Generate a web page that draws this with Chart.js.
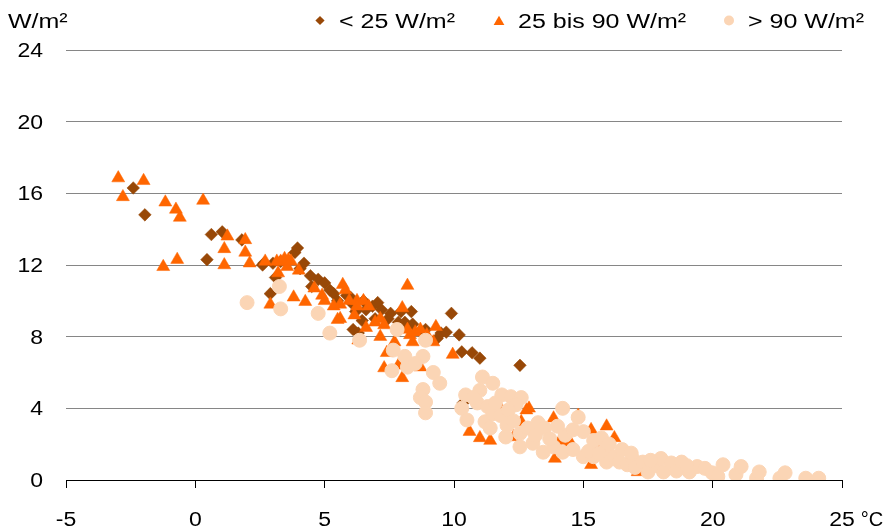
<!DOCTYPE html>
<html>
<head>
<meta charset="utf-8">
<script src="https://cdn.jsdelivr.net/npm/chart.js@4/dist/chart.umd.min.js"></script>
<style>
  html, body { margin: 0; padding: 0; background: #fff; }
  #wrap { width: 885px; height: 532px; }
</style>
</head>
<body>
<div id="wrap"><canvas id="tempChart" width="885" height="532"></canvas></div>
<script>
// Ticks
const xTicks = [-5, 0, 5, 10, 15, 20, 25];
const yTicks = [0, 4, 8, 12, 16, 20, 24];

// Series labels
const seriesLabels = ["< 25 W/m²", "25 bis 90 W/m²", "> 90 W/m²"];

// [temperature °C, W/m²]
const lowRad = [
  [-2.4, 16.3], [-1.95, 14.8], [0.45, 12.3], [0.62, 13.7], [1.04, 13.85], [1.8, 13.4],
  [2.6, 12.0], [2.65, 12.1], [2.9, 10.4], [3.0, 12.1], [3.1, 11.3], [3.3, 12.2],
  [3.85, 12.7], [3.95, 12.95], [4.05, 11.8], [4.2, 12.1], [4.45, 11.4], [4.5, 10.8],
  [4.75, 11.2], [5.0, 11.0], [5.2, 10.6], [5.35, 10.4], [5.5, 10.0], [5.85, 10.3],
  [6.0, 10.2], [6.1, 9.8], [6.1, 8.4], [6.2, 9.4], [6.3, 8.2], [6.45, 8.9], [6.5, 10.0],
  [6.6, 9.5], [6.85, 9.7], [6.95, 9.0], [7.05, 9.9], [7.2, 9.5], [7.45, 9.0], [7.55, 9.3],
  [7.85, 8.8], [7.95, 9.4], [8.1, 8.8], [8.35, 9.4], [8.4, 8.7], [8.7, 8.3], [8.9, 8.4],
  [9.35, 7.9], [9.5, 8.2], [9.7, 8.25], [9.9, 9.3], [10.2, 8.1], [10.3, 7.15], [10.35, 4.3],
  [10.7, 7.1], [11.0, 6.8], [12.55, 6.4]
];
const midRad = [
  [-2.98, 16.85], [-2.8, 15.8], [-2.0, 16.7], [-1.24, 11.9], [-1.16, 15.5], [-0.75, 15.1],
  [-0.6, 14.65], [-0.7, 12.3], [0.3, 15.6], [1.12, 12.0], [1.12, 12.9], [1.24, 13.6],
  [1.93, 13.4], [1.93, 12.7], [2.1, 12.1], [2.7, 12.2], [2.9, 9.8], [3.15, 12.2],
  [3.2, 11.55], [3.3, 12.2], [3.45, 12.35], [3.6, 12.3], [3.55, 11.9], [3.7, 12.2],
  [4.0, 11.7], [3.8, 10.2], [4.25, 9.95], [4.6, 10.7], [4.9, 10.3], [5.0, 10.0],
  [5.35, 9.7], [5.6, 9.8], [5.7, 10.9], [5.8, 10.6], [5.5, 8.95], [5.6, 9.0], [5.95, 10.0],
  [6.15, 9.2], [6.25, 10.0], [6.25, 9.7], [6.5, 10.0], [6.6, 8.5], [6.3, 7.8], [6.7, 9.7],
  [6.95, 8.8], [7.15, 9.0], [7.15, 8.0], [7.3, 8.65], [7.4, 7.1], [7.3, 6.25], [7.7, 7.7],
  [7.85, 6.4], [8.0, 5.7], [8.0, 9.6], [8.2, 10.85], [8.2, 8.4], [8.3, 8.1], [8.4, 7.7],
  [8.5, 8.25], [8.7, 8.4], [8.7, 6.3], [8.95, 8.1], [9.3, 8.55], [9.2, 7.7], [9.95, 7.0],
  [10.6, 2.7], [11.0, 2.35], [11.4, 2.2], [11.8, 4.0], [12.0, 3.8], [12.3, 2.4], [12.6, 3.25],
  [12.8, 3.9], [12.9, 4.0], [13.85, 3.45], [14.1, 2.2], [13.9, 1.2], [14.5, 2.1], [14.8, 3.6],
  [15.3, 2.8], [15.3, 0.85], [15.5, 1.85], [15.9, 3.0], [16.2, 2.35], [17.1, 0.45]
];
const highRad = [
  [2.0, 9.9], [3.25, 10.8], [3.3, 9.55], [4.75, 9.3], [5.2, 8.2], [6.35, 7.8], [7.8, 8.4],
  [8.9, 7.8], [7.65, 7.25], [8.1, 6.9], [8.8, 6.9], [7.6, 6.1], [8.2, 6.3], [8.5, 6.5],
  [9.2, 6.0], [9.45, 5.4], [8.8, 5.05], [8.7, 4.6], [8.9, 4.35], [8.9, 3.75], [10.45, 4.75],
  [11.1, 5.75], [11.5, 5.4], [11.0, 5.0], [10.9, 4.3], [11.3, 4.1], [10.5, 3.35], [11.2, 3.25],
  [11.5, 3.7], [11.8, 3.6], [11.85, 4.75], [12.2, 4.65], [12.6, 4.6], [12.4, 4.2], [12.1, 3.9],
  [12.05, 3.05], [12.55, 2.6], [12.0, 2.4], [12.55, 1.85], [13.05, 2.05], [13.25, 3.2],
  [13.5, 2.9], [13.45, 1.55], [14.2, 4.0], [14.8, 3.5], [13.85, 1.85], [14.2, 1.55], [14.3, 2.5],
  [14.6, 1.7], [15.0, 2.7], [15.0, 1.3], [15.4, 2.2], [15.7, 2.35], [15.85, 1.7], [15.9, 1.0],
  [15.4, 1.3], [16.2, 1.3], [16.5, 1.7], [16.4, 1.0], [16.7, 0.85], [16.9, 1.2], [17.0, 0.7],
  [17.3, 1.0], [17.5, 0.45], [17.8, 0.8], [18.0, 1.2], [18.1, 0.45], [18.4, 0.95], [18.6, 0.5],
  [18.8, 1.0], [19.1, 0.45], [19.4, 0.75], [19.7, 0.65], [19.98, 0.4], [20.2, 0.2], [20.4, 0.85],
  [20.9, 0.3], [21.1, 0.75], [21.7, 0.1], [21.8, 0.45], [22.6, 0.1], [22.8, 0.4], [23.6, 0.1],
  [24.1, 0.1],
  [10.3, 4.0], [10.75, 4.6], [11.6, 4.3], [11.4, 2.9], [12.3, 3.3], [12.85, 2.9], [13.15, 2.5],
  [13.7, 2.3], [14.0, 3.0], [14.6, 2.8], [15.2, 1.6], [15.6, 1.5], [16.0, 2.0], [16.85, 1.5],
  [17.6, 1.1], [19.0, 0.8]
];

const toPoints = (arr) => arr.map(([x, y]) => ({ x, y }));

const FONT = '20px "Liberation Sans", Arial, sans-serif';
const SX = 1.25; // wide text for legend and unit
const SX_TICK = 1.15;

function wideText(ctx, str, px, py, align, sx) {
  const w = ctx.measureText(str).width * sx;
  const left = align === "right" ? px - w : align === "center" ? px - w / 2 : px;
  ctx.save();
  ctx.translate(left, py);
  ctx.scale(sx, 1);
  ctx.textAlign = "left";
  ctx.fillText(str, 0, 0);
  ctx.restore();
  return w;
}

// axis labels, unit text and legend
const labelsPlugin = {
  id: "labels",
  afterDraw(chart) {
    const ctx = chart.ctx;
    const xs = chart.scales.x;
    const ys = chart.scales.y;
    ctx.save();
    ctx.font = FONT;
    ctx.fillStyle = "#000";
    ctx.textBaseline = "alphabetic";

    ys.ticks.forEach((t) => {
      wideText(ctx, String(t.value), 43, ys.getPixelForValue(t.value) + 7, "right", SX_TICK);
    });
    xs.ticks.forEach((t) => {
      const px = xs.getPixelForValue(t.value);
      const w = wideText(ctx, String(t.value), px, 526, "center", SX_TICK);
      if (t.value === xs.max) wideText(ctx, "°C", px + w / 2 + 6, 526, "left", 1);
    });
    wideText(ctx, "W/m²", 8, 28, "left", SX);

    // legend
    const itemX = [320, 499, 729];
    const markR = { rectRot: 4.6, triangle: 6.2, circle: 5 };
    chart.data.datasets.forEach((ds, i) => {
      ctx.fillStyle = ds.backgroundColor;
      const opts = { pointStyle: ds.pointStyle, radius: markR[ds.pointStyle], rotation: 0, borderWidth: 0 };
      const my = ds.pointStyle === "triangle" ? 22 : 20.5;
      if (Chart.helpers && Chart.helpers.drawPoint) {
        Chart.helpers.drawPoint(ctx, opts, itemX[i], my);
      }
      ctx.fillStyle = "#000";
      wideText(ctx, ds.label, itemX[i] + 19, 28, "left", SX);
    });
    ctx.restore();
  },
};

const ctx = document.getElementById("tempChart").getContext("2d");
const tempChart = new Chart(ctx, {
  type: "scatter",
  data: {
    datasets: [
      {
        label: seriesLabels[0],
        data: toPoints(lowRad),
        pointStyle: "rectRot",
        pointRadius: 6.3,
        backgroundColor: "#984807",
        borderColor: "#984807",
        borderWidth: 0.5,
        order: 3,
      },
      {
        label: seriesLabels[1],
        data: toPoints(midRad),
        pointStyle: "triangle",
        pointRadius: 7.5,
        backgroundColor: "#FF6600",
        borderColor: "#FF6600",
        borderWidth: 0.5,
        order: 2,
      },
      {
        label: seriesLabels[2],
        data: toPoints(highRad),
        pointStyle: "circle",
        pointRadius: 7,
        backgroundColor: "#FBD5B5",
        borderColor: "#FBD5B5",
        borderWidth: 1,
        order: 1,
      },
    ],
  },
  options: {
    responsive: false,
    animation: false,
    devicePixelRatio: 1,
    layout: { padding: { left: 0, right: 43, top: 50, bottom: 0 } },
    plugins: {
      legend: { display: false },
      tooltip: { enabled: false },
    },
    scales: {
      x: {
        type: "linear",
        min: xTicks[0],
        max: xTicks[xTicks.length - 1],
        afterBuildTicks: (s) => { s.ticks = xTicks.map((v) => ({ value: v })); },
        afterFit: (s) => { s.height = 52; },
        ticks: { display: false },
        grid: { drawOnChartArea: false, drawTicks: true, tickLength: 8, color: "#000", lineWidth: 1 },
        border: { display: true, color: "#000", width: 1 },
      },
      y: {
        type: "linear",
        min: yTicks[0],
        max: yTicks[yTicks.length - 1],
        afterBuildTicks: (s) => { s.ticks = yTicks.map((v) => ({ value: v })); },
        afterFit: (s) => { s.width = 66; },
        ticks: { display: false },
        grid: {
          drawTicks: false,
          color: (c) => (c.tick && c.tick.value === 0 ? "#000" : "#868686"),
          lineWidth: 1,
        },
        border: { display: false },
      },
    },
  },
  plugins: [labelsPlugin],
});
</script>
</body>
</html>
